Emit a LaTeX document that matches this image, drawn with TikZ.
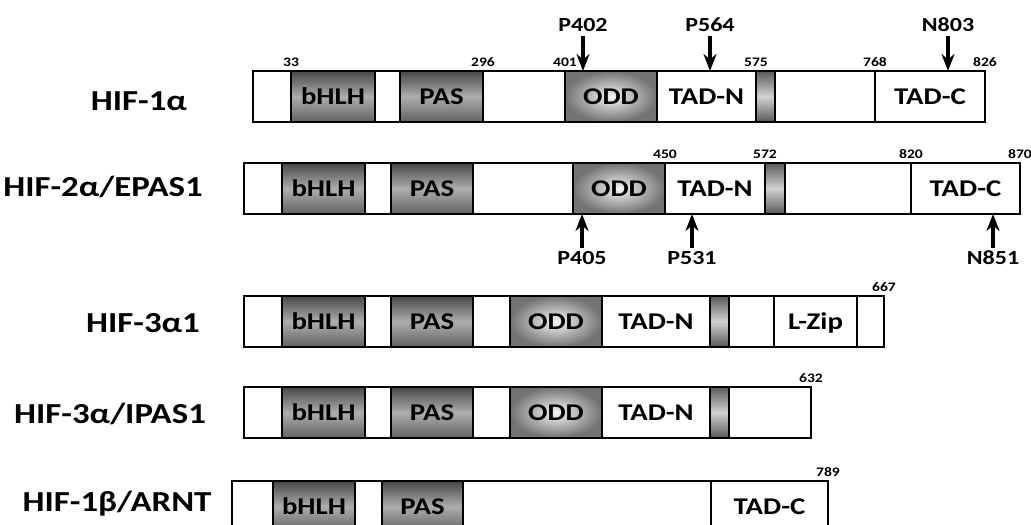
\documentclass[tikz,border=0pt]{standalone}
\usepackage{fontspec}
\setmainfont{Carlito}[FakeStretch=1.2]
\usetikzlibrary{arrows.meta, positioning}

\pgfdeclareverticalshading{domdark}{100bp}{color(0bp)=(black!62); color(25bp)=(black!62);
  color(50bp)=(black!32); color(75bp)=(black!72); color(100bp)=(black!72)}
\pgfdeclareverticalshading{domhinge}{100bp}{color(0bp)=(black!65); color(25bp)=(black!65);
  color(50bp)=(black!18); color(75bp)=(black!65); color(100bp)=(black!65)}

\begin{document}
\begin{tikzpicture}[
  x=0.5pt, y=-0.5pt,
  node distance=0pt,
  seg/.style={draw, line width=1.4pt, inner sep=0pt, outer sep=0pt,
              minimum height=25.5pt, text height=7.7pt, text depth=0pt,
              font=\fontsize{12}{12}\selectfont\bfseries},
  blank/.style={seg, fill=white},
  dark/.style={seg, shading=domdark},
  odd/.style={seg, inner color=black!4, outer color=black!55},
  hinge/.style={seg, shading=domhinge},
  protein/.style={inner sep=0pt, text height=9.3pt, text depth=0pt,
                  font=\fontsize{14.5}{14.5}\selectfont\bfseries},
  num/.style={inner sep=0.5pt, font=\fontsize{6.5}{6.5}\selectfont\bfseries},
  site/.style={inner sep=2pt, text height=6.4pt, text depth=0pt,
               font=\fontsize{10}{10}\selectfont\bfseries},
  arr/.style={-{Stealth[length=8.5pt, width=6.5pt]}, line width=1.6pt}
]
\clip (0,0) rectangle (1031,524);

% HIF-1 alpha
\node[protein] (hif1a) at (139,101) {HIF-1α};
\node[blank, minimum width=19pt, anchor=north west] (r1a) at (253,71) {};
\node[dark, minimum width=42pt, right=of r1a] (r1bhlh) {bHLH};
\node[blank, minimum width=12.5pt, right=of r1bhlh] (r1b) {};
\node[dark, minimum width=41.5pt, right=of r1b] (r1pas) {PAS};
\node[blank, minimum width=41pt, right=of r1pas] (r1c) {};
\node[odd, minimum width=46pt, right=of r1c] (r1odd) {ODD};
\node[blank, minimum width=49.5pt, right=of r1odd] (r1tadn) {TAD-N};
\node[hinge, minimum width=9.5pt, right=of r1tadn] (r1h) {};
\node[blank, minimum width=50pt, right=of r1h] (r1d) {};
\node[blank, minimum width=55pt, right=of r1d] (r1tadc) {TAD-C};
\node[num, above=1.5pt of r1bhlh.north west] (n33) {33};
\node[num, above=1.5pt of r1pas.north east] (n296) {296};
\node[num, above=1.5pt of r1odd.north west] (n401) {401};
\node[num, above=1.5pt of r1tadn.north east] (n575) {575};
\node[num, above=1.5pt of r1tadc.north west] (n768) {768};
\node[num, above=1.5pt of r1tadc.north east] (n826) {826};
\coordinate (c402) at ([xshift=9pt]r1odd.north west);
\coordinate (c564) at ([xshift=26.5pt]r1tadn.north west);
\coordinate (c803) at ([xshift=36.5pt]r1tadc.north west);
\node[site, above=17.5pt of c402] (p402) {P402};
\node[site, above=17.5pt of c564] (p564) {P564};
\node[site, above=17.5pt of c803] (n803) {N803};
\draw[arr] (p402) -- (c402);
\draw[arr] (p564) -- (c564);
\draw[arr] (n803) -- (c803);

% HIF-2 alpha
\node[protein] (hif2a) at (103,187) {HIF-2α/EPAS1};
\node[blank, minimum width=19pt, anchor=north west] (r2a) at (244,163) {};
\node[dark, minimum width=41.5pt, right=of r2a] (r2bhlh) {bHLH};
\node[blank, minimum width=13pt, right=of r2bhlh] (r2b) {};
\node[dark, minimum width=41pt, right=of r2b] (r2pas) {PAS};
\node[blank, minimum width=50pt, right=of r2pas] (r2c) {};
\node[odd, minimum width=46pt, right=of r2c] (r2odd) {ODD};
\node[blank, minimum width=50pt, right=of r2odd] (r2tadn) {TAD-N};
\node[hinge, minimum width=10pt, right=of r2tadn] (r2h) {};
\node[blank, minimum width=63pt, right=of r2h] (r2d) {};
\node[blank, minimum width=54.5pt, right=of r2d] (r2tadc) {TAD-C};
\node[num, above=1.5pt of r2tadn.north west] (n450) {450};
\node[num, above=1.5pt of r2tadn.north east] (n572) {572};
\node[num, above=1.5pt of r2tadc.north west] (n820) {820};
\node[num, above=1.5pt of r2tadc.north east] (n870) {870};
\coordinate (c405) at ([xshift=4.5pt]r2odd.south west);
\coordinate (c531) at ([xshift=13.5pt]r2tadn.south west);
\coordinate (c851) at ([xshift=41pt]r2tadc.south west);
\node[site, below=16.8pt of c405] (p405) {P405};
\node[site, below=16.8pt of c531] (p531) {P531};
\node[site, below=16.8pt of c851] (n851) {N851};
\draw[arr] (p405) -- (c405);
\draw[arr] (p531) -- (c531);
\draw[arr] (n851) -- (c851);

% HIF-3 alpha1
\node[protein] (hif3a) at (143,323) {HIF-3α1};
\node[blank, minimum width=19pt, anchor=north west] (r3a) at (244,296) {};
\node[dark, minimum width=41.5pt, right=of r3a] (r3bhlh) {bHLH};
\node[blank, minimum width=13pt, right=of r3bhlh] (r3b) {};
\node[dark, minimum width=41pt, right=of r3b] (r3pas) {PAS};
\node[blank, minimum width=18.5pt, right=of r3pas] (r3c) {};
\node[odd, minimum width=46pt, right=of r3c] (r3odd) {ODD};
\node[blank, minimum width=54pt, right=of r3odd] (r3tadn) {TAD-N};
\node[hinge, minimum width=9.5pt, right=of r3tadn] (r3h) {};
\node[blank, minimum width=22.5pt, right=of r3h] (r3d) {};
\node[blank, minimum width=41.5pt, right=of r3d] (r3lzip) {L-Zip};
\node[blank, minimum width=13.5pt, right=of r3lzip] (r3e) {};
\node[num, above=1.5pt of r3e.north east] (n667) {667};

% HIF-3 alpha / IPAS
\node[protein] (ipas) at (110,414) {HIF-3α/IPAS1};
\node[blank, minimum width=19pt, anchor=north west] (r4a) at (244,387) {};
\node[dark, minimum width=41.5pt, right=of r4a] (r4bhlh) {bHLH};
\node[blank, minimum width=13pt, right=of r4bhlh] (r4b) {};
\node[dark, minimum width=41pt, right=of r4b] (r4pas) {PAS};
\node[blank, minimum width=18.5pt, right=of r4pas] (r4c) {};
\node[odd, minimum width=46pt, right=of r4c] (r4odd) {ODD};
\node[blank, minimum width=54pt, right=of r4odd] (r4tadn) {TAD-N};
\node[hinge, minimum width=9.5pt, right=of r4tadn] (r4h) {};
\node[blank, minimum width=41pt, right=of r4h] (r4d) {};
\node[num, above=1.5pt of r4d.north east] (n632) {632};

% HIF-1 beta
\node[protein] (arnt) at (117,502) {HIF-1β/ARNT};
\node[blank, minimum width=20.5pt, anchor=north west] (r5a) at (232,481) {};
\node[dark, minimum width=41pt, right=of r5a] (r5bhlh) {bHLH};
\node[blank, minimum width=13.5pt, right=of r5bhlh] (r5b) {};
\node[dark, minimum width=40.5pt, right=of r5b] (r5pas) {PAS};
\node[blank, minimum width=124pt, right=of r5pas] (r5c) {};
\node[blank, minimum width=58.5pt, right=of r5c] (r5tadc) {TAD-C};
\node[num, above=1.5pt of r5tadc.north east] (n789) {789};
\end{tikzpicture}
\end{document}
